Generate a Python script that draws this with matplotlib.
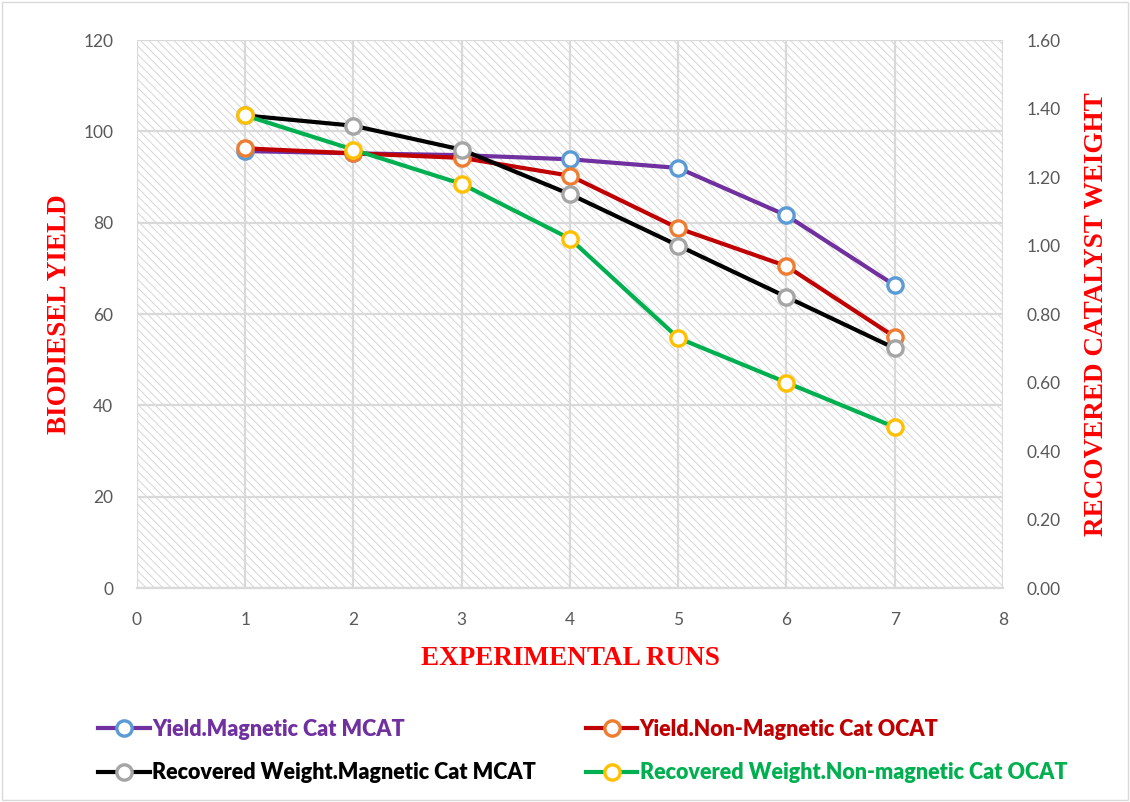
import matplotlib
matplotlib.use("Agg")
import matplotlib.pyplot as plt
from matplotlib.patches import Rectangle
from matplotlib.lines import Line2D

runs = [1, 2, 3, 4, 5, 6, 7]
yield_mcat = [95.7, 95.2, 94.8, 93.9, 92.0, 81.6, 66.3]
yield_ocat = [96.3, 95.2, 94.2, 90.3, 78.8, 70.5, 55.0]
weight_mcat = [1.38, 1.35, 1.28, 1.15, 1.00, 0.85, 0.70]
weight_ocat = [1.38, 1.28, 1.18, 1.02, 0.73, 0.60, 0.47]

labels = [
    "Yield.Magnetic Cat MCAT",
    "Yield.Non-Magnetic Cat OCAT",
    "Recovered Weight.Magnetic Cat MCAT",
    "Recovered Weight.Non-magnetic Cat OCAT",
]
line_colors = ["#7030a0", "#c00000", "#000000", "#00b050"]
marker_colors = ["#5b9bd5", "#ed7d31", "#a5a5a5", "#ffc000"]

plt.rcParams["hatch.linewidth"] = 0.7
plt.rcParams["hatch.color"] = "#d6d6d6"

fig = plt.figure(figsize=(11.3, 8.02), dpi=100)
fig.patches.append(Rectangle((0.002, 0.002), 0.996, 0.996, transform=fig.transFigure,
                             fill=False, edgecolor="#d9d9d9", lw=1.0))

ax = fig.add_axes([0.1212, 0.2668, 0.7664, 0.6832])
ax2 = ax.twinx()

# hatched plot background
ax.add_patch(Rectangle((0, 0), 1, 1, transform=ax.transAxes, facecolor="white",
                       edgecolor="#d6d6d6", hatch="\\\\\\\\", lw=0, zorder=0))

ax.set_xlim(0, 8)
ax.set_ylim(0, 120)
ax2.set_ylim(0, 1.6)
ax.set_xticks(range(0, 9))
ax.set_yticks(range(0, 121, 20))
ax2.set_yticks([i * 0.2 for i in range(9)])
ax2.set_yticklabels([f"{i * 0.2:.2f}" for i in range(9)])

ax.grid(True, color="#d9d9d9", lw=1.6, zorder=1)
ax.set_axisbelow(True)
for a in (ax, ax2):
    for s in a.spines.values():
        s.set_visible(False)
    a.tick_params(length=0, labelsize=12.5, labelcolor="#595959", pad=17)
    for t in a.get_xticklabels() + a.get_yticklabels():
        t.set_fontfamily("Lato")
ax.spines["bottom"].set_visible(True)
ax.spines["bottom"].set_color("#d9d9d9")
ax.spines["bottom"].set_linewidth(1.6)

common = dict(lw=3, marker="o", markersize=11, markerfacecolor="white", markeredgewidth=2.4)
ax.plot(runs, yield_mcat, color=line_colors[0], markeredgecolor=marker_colors[0], zorder=3, **common)
ax.plot(runs, yield_ocat, color=line_colors[1], markeredgecolor=marker_colors[1], zorder=4, **common)
ax2.plot(runs, weight_mcat, color=line_colors[2], markeredgecolor=marker_colors[2], zorder=3, **common)
ax2.plot(runs, weight_ocat, color=line_colors[3], markeredgecolor=marker_colors[3], zorder=4, **common)

title_font = dict(family="Liberation Serif", weight="bold", size=19.5, color="#ff0000")
ax.set_ylabel("BIODIESEL YIELD", labelpad=8, **title_font)
ax2.set_ylabel("RECOVERED CATALYST WEIGHT", labelpad=17, **title_font)
ax.set_xlabel("EXPERIMENTAL RUNS", labelpad=13, **title_font)

handles = [
    Line2D([], [], color=line_colors[i], markeredgecolor=marker_colors[i], **common)
    for i in range(4)
]
order = [0, 2, 1, 3]
leg = fig.legend([handles[i] for i in order], [labels[i] for i in order],
                 loc="lower left", bbox_to_anchor=(0.07, -0.001), ncol=2, frameon=False,
                 handlelength=2.4, handletextpad=0.1, columnspacing=2.3, labelspacing=1.05,
                 prop={"family": "Lato", "weight": "heavy", "size": 15.5})
for txt, i in zip(leg.get_texts(), order):
    txt.set_color(line_colors[i])

fig.savefig("out.png", dpi=100)
